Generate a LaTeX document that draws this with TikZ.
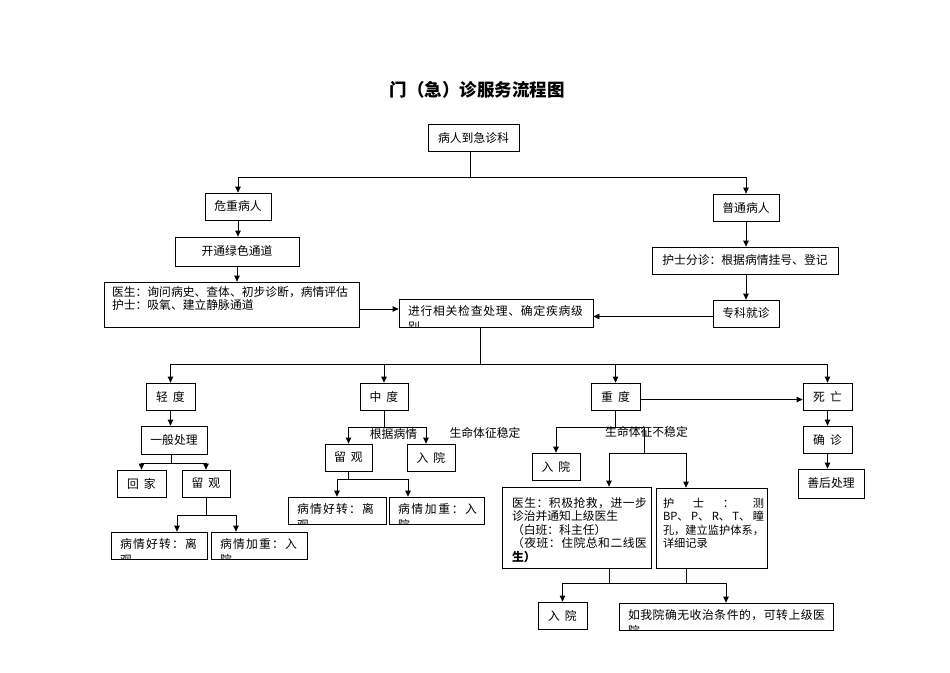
\documentclass[tikz,border=0pt]{standalone}
\usepackage{fontspec}
\setmainfont{Noto Sans CJK SC}
\usetikzlibrary{arrows.meta}
\newcommand\fs{\fontsize{11.8}{14}\selectfont}
\newcommand\fsc{\fontsize{11.8}{16}\selectfont}
\def\sprdloop#1#2{#1\ifx#2\relax\else\hfill\expandafter\sprdloop\expandafter#2\fi}
\newcommand\sprd[2]{\makebox[#1][s]{\sprdloop#2\relax}}
\newcommand\bx[6]{%
  \pgfmathsetmacro\bxw{#4-#2}\pgfmathsetmacro\bxh{#5-#3}%
  \node[bx,minimum width=\bxw pt,minimum height=\bxh pt] (#1) at ({(#2+#4)/2},{(#3+#5)/2}) {#6};}
\newcommand\cbx[7]{%
  \bx{#1}{#2}{#3}{#4}{#5}{}%
  \begin{scope}
    \clip (#1.south west) rectangle (#1.north east);
    \node[txt,#6] at (#1.north west) {#7};
  \end{scope}}
\tikzset{
  bx/.style={draw,line width=0.75pt,inner sep=0pt,align=center,font=\fs},
  txt/.style={anchor=north west,inner sep=0pt,align=left,font=\fs},
  cut/.style={xshift=9pt,yshift=-6.5pt,font=\fsc},
  lbl/.style={inner sep=0pt,font=\fs},
  arr/.style={-{Triangle[length=6pt,width=5.5pt]}}
}
\begin{document}
\begin{tikzpicture}[x=1pt,y=-1pt,line width=0.75pt]
\fill[white] (0,0) rectangle (950,672);
\useasboundingbox (0,0) rectangle (950,672);

\node[font=\bfseries\fontsize{17.5}{20}\selectfont] (title) at (477,90) {门（急）诊服务流程图};

% top part
\bx{a}{428}{124}{519}{151}{病人到急诊科}
\bx{wz}{205}{193}{271}{220}{危重病人}
\bx{lv}{175}{237}{299}{266}{开通绿色通道}
\cbx{ys}{104}{282}{359}{327}{xshift=8pt,yshift=-5pt,font=\fontsize{11.8}{12.5}\selectfont}{医生：询问病史、查体、初步诊断，病情评估\\护士：吸氧、建立静脉通道}
\cbx{jx}{399}{299}{593}{327}{cut}{\sprd{175pt}{进行相关检查处理、确定疾病级}\\别}
\bx{pt}{713}{194}{779}{221}{普通病人}
\bx{fz}{652}{247}{838}{274}{护士分诊：根据病情挂号、登记}
\bx{zk}{713}{300}{779}{327}{专科就诊}

\draw ([xshift=-3.5pt]a.south) -- ++(0,26) coordinate (j1);
\draw[arr] (j1) -| (wz.north);
\draw[arr] (j1) -| (pt.north);
\draw[arr] (wz.south) -- (wz.south |- lv.north);
\draw[arr] (lv.south) -- (lv.south |- ys.north);
\draw[arr] (pt.south) -- (pt.south |- fz.north);
\draw[arr] (pt.south |- fz.south) -- (pt.south |- zk.north);
\draw[arr] ([yshift=-4.5pt]ys.east) -- ([yshift=-4.5pt]ys.east -| jx.west);
\draw[arr] ([yshift=-3pt]zk.west) -- ([yshift=-3pt]zk.west -| jx.east);

% grades
\bx{qd}{146}{383}{195}{410}{轻\hspace{5pt}度}
\bx{zd}{360}{383}{408}{410}{中\hspace{5pt}度}
\bx{cd}{591}{383}{640}{410}{重\hspace{5pt}度}
\bx{sw}{803}{383}{852}{410}{死\hspace{5pt}亡}

\draw ([xshift=-16pt]jx.south) -- ++(0,37) coordinate (t2);
\draw[arr] (t2) -| (qd.north);
\draw[arr] (t2) -| (sw.north);
\draw[arr] (t2 -| zd.north) -- (zd.north);
\draw[arr] (t2 -| cd.north) -- (cd.north);
\draw[arr] ([yshift=-3pt]cd.east) -- ([yshift=-3pt]cd.east -| sw.west);

% light
\bx{yb}{141}{426}{207}{454}{一般处理}
\bx{hj}{117}{470}{166}{497}{回\hspace{5pt}家}
\bx{lg1}{182}{470}{230}{497}{留\hspace{5pt}观}
\cbx{hz1}{111}{532}{207}{559}{cut}{\sprd{77pt}{病情好转：离}\\观}
\cbx{jz1}{211}{532}{307}{559}{cut}{\sprd{77pt}{病情加重：入}\\院}
\draw[arr] (qd.south) -- (qd.south |- yb.north);
\draw ([xshift=-3pt]yb.south) -- ++(0,9) coordinate (j3);
\draw[arr] (j3) -| (hj.north);
\draw[arr] (j3) -| (lg1.north);
\draw (lg1.south) -- ++(0,18) coordinate (j4);
\draw[arr] (j4) -| ([xshift=18pt]hz1.north);
\draw[arr] (j4) -| ([xshift=-23pt]jz1.north);

% medium
\bx{lg2}{325}{444}{372}{471}{留\hspace{5pt}观}
\bx{ry1}{407}{444}{455}{471}{入\hspace{5pt}院}
\cbx{hz2}{288}{497}{386}{524}{cut}{\sprd{77pt}{病情好转：离}\\观}
\cbx{jz2}{389}{497}{484}{524}{cut}{\sprd{79pt}{病情加重：入}\\院}
\draw (zd.south) -- ++(0,17) coordinate (j5);
\draw[arr] (j5) -| (lg2.north);
\draw[arr] (j5) -| ([xshift=-5pt]ry1.north);
\node[lbl] (l1) at (393.5,434) {根据病情};
\node[lbl] (l2) at (485,433) {生命体征稳定};
\draw (lg2.south) -- ++(0,8) coordinate (j6);
\draw[arr] (j6) -| (hz2.north);
\draw[arr] (j6) -| ([xshift=-28.5pt]jz2.north);

% severe
\bx{ry2}{532}{453}{580}{480}{入\hspace{5pt}院}
\cbx{ysR}{502}{487}{651}{568}{xshift=10pt,yshift=-10pt,font=\fontsize{11.8}{13.5}\selectfont}{\sprd{135pt}{医生：积极抢救，进一步}\\诊治并通知上级医生\\（白班：科主任）\\\sprd{135pt}{（夜班：住院总和二线医}\\{\bfseries 生）}}
\cbx{hs}{656}{488}{767}{568}{xshift=7pt,yshift=-10pt,font=\fontsize{11.2}{13.5}\selectfont}{\sprd{101pt}{护士：测}\\\makebox[101pt][s]{BP、\hfill P、\hfill R、\hfill T、\hfill 瞳}\\\sprd{101pt}{孔，建立监护体系，}\\详细记录}
\draw (cd.south) -- ++(0,17) coordinate (j7);
\draw[arr] (j7) -| (ry2.north);
\draw (j7) -- ++(28.5,0) -- ++(0,26) coordinate (j8);
\draw[arr] (j8) -| ([xshift=32.5pt]ysR.north);
\draw[arr] (j8) -| ([xshift=-25.5pt]hs.north);
\node[lbl] (l3) at (646.5,432) {生命体征不稳定};

% bottom
\bx{ry3}{538}{602}{587}{629}{入\hspace{5pt}院}
\cbx{zy}{619}{603}{833}{630}{cut}{\sprd{197pt}{如我院确无收治条件的，可转上级医}\\院}
\draw ([xshift=32.5pt]ysR.south) -- ++(0,15) coordinate (j9);
\draw ([xshift=-25.5pt]hs.south) -- ++(0,15) coordinate (j10);
\draw (j9) -- (j10);
\draw[arr] (j9) -| (ry3.north);
\draw[arr] (j10) -| (zy.north);

% death
\bx{qz}{803}{426}{852}{453}{确\hspace{5pt}诊}
\bx{sh}{798}{469}{864}{498}{善后处理}
\draw[arr] (sw.south) -- (sw.south |- qz.north);
\draw[arr] (qz.south) -- (qz.south |- sh.north);
\end{tikzpicture}
\end{document}
